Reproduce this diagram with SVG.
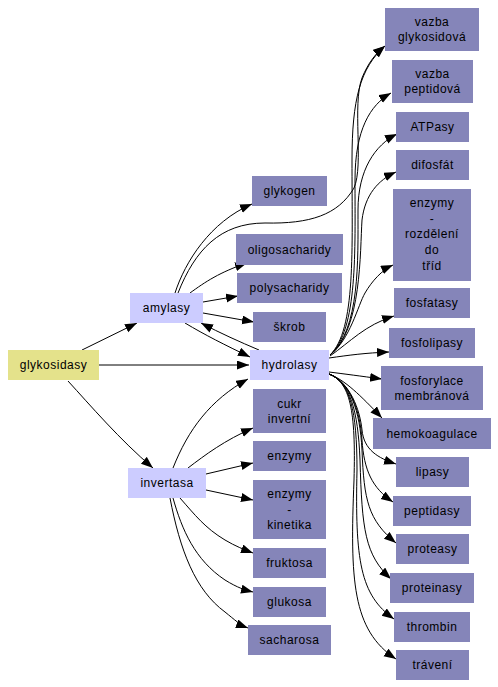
<svg xmlns="http://www.w3.org/2000/svg" width="498" height="687" viewBox="0 0 498 687">
<defs>
<marker id="ah" markerUnits="userSpaceOnUse" markerWidth="14" markerHeight="10" refX="12" refY="4.5" orient="auto">
<path d="M0,0 L12,4.5 L0,9 z" fill="#000"/>
</marker>
<style>
.n rect{stroke:none}
.p{fill:#8585b9}
.b{fill:#ccccff}
.y{fill:#e4e28b}
text{font-family:"Liberation Sans",Arial,sans-serif;font-size:12px;letter-spacing:0.5px;fill:#000;text-anchor:middle}
#edges path{fill:none;stroke:#000;stroke-width:1;marker-end:url(#ah)}
</style>
</defs>
<rect width="498" height="687" fill="#fff"/>
<g id="edges">
<path d="M82,350 L137,323"/>
<path d="M99,365 L249,365"/>
<path d="M68,381 C90,405 120,440 153,468"/>
<path d="M175,293 C185,262 210,222 252,204"/>
<path d="M178,293 C195,250 220,223 265,223 C310,224 338,215 354,188 C364,165 352,105 362,78 C368,63 376,53 385,46"/>
<path d="M190,293 C205,282 220,272 247,263"/>
<path d="M203,302 L238,296"/>
<path d="M203,313 L254,322"/>
<path d="M185,323 C205,335 225,345 250,357"/>
<path d="M259,350 C240,342 220,333 201,323"/>
<path d="M173,468 C188,430 210,400 248,379"/>
<path d="M188,468 C205,455 225,440 253,428"/>
<path d="M206,474 L253,463"/>
<path d="M206,490 L253,500"/>
<path d="M180,498 C195,515 205,528 225,540 C235,546 245,550 253,553"/>
<path d="M173,498 C182,530 195,560 225,580 C238,588 245,590 253,592"/>
<path d="M170,498 C180,550 195,590 225,612 C235,620 240,625 248,628"/>
<path d="M330,355 C356,330 352,250 352,160 C352,100 360,68 385,46"/>
<path d="M330,355 C358,330 355,250 355,180 C355,130 370,105 391,93"/>
<path d="M330,355 C360,330 358,260 358,210 C358,170 375,145 397,134"/>
<path d="M330,355 C362,330 360,250 362,220 C365,195 378,180 396,172"/>
<path d="M330,355 C350,340 358,305 365,293 C372,281 382,270 393,265"/>
<path d="M330,356 C350,342 365,325 394,316"/>
<path d="M329,358 C350,355 365,353 389,352"/>
<path d="M329,372 C345,374 360,376 382,379"/>
<path d="M329,374 C345,380 360,395 382,418"/>
<path d="M329,374 C350,382 360,410 362,430 C364,450 378,458 396,464"/>
<path d="M329,374 C350,382 360,410 362,440 C364,470 372,488 393,502"/>
<path d="M329,374 C350,382 360,410 362,450 C364,500 368,520 396,543"/>
<path d="M329,374 C350,382 358,410 360,460 C362,530 365,555 391,579"/>
<path d="M329,374 C350,382 357,410 357,470 C355,560 360,595 394,619"/>
<path d="M329,374 C350,382 356,410 354,480 C350,580 352,630 396,659"/>
</g>
<g id="glykosidasy" class="n"><rect class="y" x="8" y="350" width="91" height="30"/><text x="53.5" y="369">glykosidasy</text></g>
<g id="amylasy" class="n"><rect class="b" x="130" y="293" width="73" height="30"/><text x="166.5" y="312">amylasy</text></g>
<g id="hydrolasy" class="n"><rect class="b" x="250" y="350" width="79" height="30"/><text x="289.5" y="369">hydrolasy</text></g>
<g id="invertasa" class="n"><rect class="b" x="128" y="468" width="78" height="30"/><text x="167" y="487">invertasa</text></g>
<g id="glykogen" class="n"><rect class="p" x="252" y="176" width="75" height="30"/><text x="289.5" y="195">glykogen</text></g>
<g id="oligosacharidy" class="n"><rect class="p" x="236" y="234" width="107" height="31"/><text x="289.5" y="253.5">oligosacharidy</text></g>
<g id="polysacharidy" class="n"><rect class="p" x="237" y="273" width="105" height="30"/><text x="289.5" y="292">polysacharidy</text></g>
<g id="skrob" class="n"><rect class="p" x="253" y="312" width="73" height="30"/><text x="289.5" y="331">škrob</text></g>
<g id="cukr_invertni" class="n"><rect class="p" x="253" y="389" width="73" height="44"/><text x="289.5" y="407.5">cukr</text><text x="289.5" y="422.5">invertní</text></g>
<g id="enzymy" class="n"><rect class="p" x="253" y="441" width="73" height="30"/><text x="289.5" y="460">enzymy</text></g>
<g id="enzymy_kinetika" class="n"><rect class="p" x="253" y="480" width="73" height="59"/><text x="289.5" y="498">enzymy</text><text x="289.5" y="513.5">-</text><text x="289.5" y="529">kinetika</text></g>
<g id="fruktosa" class="n"><rect class="p" x="253" y="548" width="73" height="30"/><text x="289.5" y="567">fruktosa</text></g>
<g id="glukosa" class="n"><rect class="p" x="253" y="587" width="73" height="30"/><text x="289.5" y="606">glukosa</text></g>
<g id="sacharosa" class="n"><rect class="p" x="248" y="625" width="83" height="30"/><text x="289.5" y="644">sacharosa</text></g>
<g id="vazba_glykosidova" class="n"><rect class="p" x="385" y="8" width="94" height="43"/><text x="432" y="26">vazba</text><text x="432" y="41">glykosidová</text></g>
<g id="vazba_peptidova" class="n"><rect class="p" x="392" y="60" width="81" height="43"/><text x="432.5" y="78">vazba</text><text x="432.5" y="93">peptidová</text></g>
<g id="ATPasy" class="n"><rect class="p" x="396" y="112" width="73" height="30"/><text x="432.5" y="131">ATPasy</text></g>
<g id="difosfat" class="n"><rect class="p" x="396" y="150" width="73" height="30"/><text x="432.5" y="169">difosfát</text></g>
<g id="enzymy_rozdeleni" class="n"><rect class="p" x="393" y="189" width="78" height="92"/><text x="432" y="207">enzymy</text><text x="432" y="222.5">-</text><text x="432" y="238">rozdělení</text><text x="432" y="254">do</text><text x="432" y="270">tříd</text></g>
<g id="fosfatasy" class="n"><rect class="p" x="394" y="288" width="76" height="30"/><text x="432" y="307">fosfatasy</text></g>
<g id="fosfolipasy" class="n"><rect class="p" x="389" y="328" width="86" height="30"/><text x="432" y="347">fosfolipasy</text></g>
<g id="fosforylace" class="n"><rect class="p" x="381" y="366" width="102" height="44"/><text x="432" y="384.5">fosforylace</text><text x="432" y="399.5">membránová</text></g>
<g id="hemokoagulace" class="n"><rect class="p" x="373" y="418" width="118" height="31"/><text x="432" y="437.5">hemokoagulace</text></g>
<g id="lipasy" class="n"><rect class="p" x="396" y="457" width="73" height="30"/><text x="432.5" y="476">lipasy</text></g>
<g id="peptidasy" class="n"><rect class="p" x="393" y="496" width="78" height="30"/><text x="432" y="515">peptidasy</text></g>
<g id="proteasy" class="n"><rect class="p" x="396" y="534" width="73" height="30"/><text x="432.5" y="553">proteasy</text></g>
<g id="proteinasy" class="n"><rect class="p" x="390" y="573" width="84" height="30"/><text x="432" y="592">proteinasy</text></g>
<g id="thrombin" class="n"><rect class="p" x="394" y="612" width="76" height="30"/><text x="432" y="631">thrombin</text></g>
<g id="traveni" class="n"><rect class="p" x="396" y="650" width="73" height="30"/><text x="432.5" y="669">trávení</text></g>
</svg>
